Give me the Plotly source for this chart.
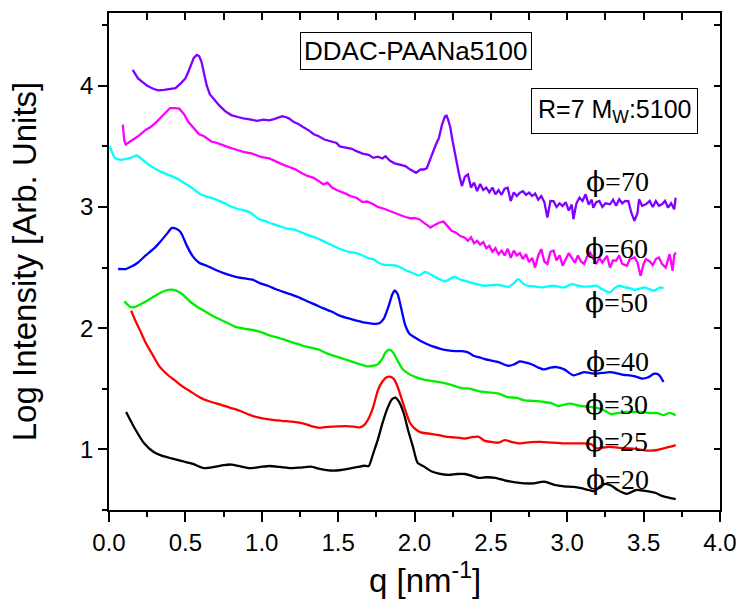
import plotly.graph_objects as go

# SAXS profiles of DDAC-PAANa5100 complexes (R=7) at several concentrations phi
q_phi20 = [0.112, 0.17, 0.23, 0.29, 0.34, 0.41, 0.49, 0.55, 0.62, 0.69, 0.75, 0.80, 0.86, 0.92, 0.99,
           1.05, 1.12, 1.19, 1.25, 1.32, 1.38, 1.45, 1.52, 1.58, 1.63, 1.67, 1.70, 1.73, 1.76, 1.79,
           1.82, 1.85, 1.875, 1.90, 1.93, 1.96, 1.99, 2.02, 2.06, 2.11, 2.16, 2.22, 2.28, 2.33, 2.38,
           2.42, 2.47, 2.53, 2.59, 2.65, 2.72, 2.78, 2.85, 2.91, 2.98, 3.04, 3.09, 3.14, 3.18, 3.21,
           3.25, 3.29, 3.33, 3.39, 3.45, 3.50, 3.54, 3.58, 3.62, 3.67, 3.71]
i_phi20 = [1.309, 1.17, 1.05, 0.98, 0.95, 0.925, 0.90, 0.88, 0.845, 0.855, 0.87, 0.875, 0.86, 0.845, 0.855,
           0.863, 0.855, 0.845, 0.85, 0.857, 0.84, 0.826, 0.83, 0.844, 0.855, 0.865, 0.862, 0.967, 1.08, 1.214,
           1.33, 1.41, 1.427, 1.39, 1.296, 1.15, 1.021, 0.89, 0.86, 0.82, 0.80, 0.79, 0.797, 0.797, 0.78,
           0.765, 0.77, 0.765, 0.745, 0.73, 0.72, 0.72, 0.734, 0.71, 0.695, 0.69, 0.68, 0.665, 0.655, 0.69,
           0.715, 0.70, 0.665, 0.633, 0.665, 0.66, 0.652, 0.64, 0.616, 0.60, 0.589]

q_phi25 = [0.145, 0.17, 0.20, 0.24, 0.29, 0.33, 0.38, 0.43, 0.48, 0.53, 0.60, 0.66, 0.73, 0.79, 0.86,
           0.93, 0.99, 1.06, 1.13, 1.21, 1.27, 1.33, 1.38, 1.43, 1.49, 1.55, 1.60, 1.64, 1.67, 1.70,
           1.73, 1.76, 1.79, 1.82, 1.84, 1.865, 1.89, 1.92, 1.94, 1.97, 2.00, 2.04, 2.09, 2.16, 2.22,
           2.28, 2.33, 2.37, 2.42, 2.46, 2.50, 2.55, 2.59, 2.64, 2.69, 2.76, 2.83, 2.90, 2.98, 3.05,
           3.11, 3.16, 3.19, 3.23, 3.28, 3.34, 3.41, 3.47, 3.54, 3.59, 3.63, 3.67, 3.71]
i_phi25 = [2.145, 2.07, 1.99, 1.88, 1.77, 1.685, 1.62, 1.57, 1.52, 1.48, 1.425, 1.395, 1.37, 1.345, 1.317,
           1.28, 1.26, 1.245, 1.236, 1.227, 1.215, 1.19, 1.178, 1.186, 1.19, 1.192, 1.188, 1.181, 1.20, 1.255,
           1.35, 1.487, 1.56, 1.597, 1.60, 1.58, 1.515, 1.40, 1.323, 1.22, 1.173, 1.14, 1.131, 1.117, 1.104,
           1.097, 1.09, 1.10, 1.104, 1.07, 1.062, 1.055, 1.076, 1.06, 1.049, 1.06, 1.062, 1.055, 1.049, 1.05,
           1.049, 1.04, 1.008, 1.015, 1.021, 1.012, 1.008, 1.00, 0.989, 0.995, 1.008, 1.02, 1.035]

q_phi30 = [0.10, 0.125, 0.145, 0.17, 0.21, 0.25, 0.30, 0.35, 0.40, 0.44, 0.48, 0.53, 0.58, 0.62, 0.68,
           0.73, 0.78, 0.83, 0.89, 0.94, 1.00, 1.05, 1.11, 1.16, 1.22, 1.27, 1.32, 1.38, 1.43, 1.49,
           1.55, 1.60, 1.65, 1.69, 1.73, 1.76, 1.79, 1.81, 1.835, 1.86, 1.89, 1.92, 1.96, 2.00, 2.06,
           2.12, 2.18, 2.25, 2.31, 2.37, 2.42, 2.48, 2.55, 2.61, 2.67, 2.72, 2.78, 2.85, 2.90, 2.94,
           2.98, 3.02, 3.08, 3.15, 3.20, 3.24, 3.29, 3.33, 3.38, 3.42, 3.48, 3.54, 3.59, 3.63, 3.67, 3.71]
i_phi30 = [2.221, 2.19, 2.172, 2.175, 2.20, 2.227, 2.265, 2.30, 2.318, 2.31, 2.28, 2.22, 2.175, 2.145, 2.10,
           2.07, 2.04, 2.01, 1.995, 1.985, 1.965, 1.94, 1.92, 1.90, 1.875, 1.855, 1.84, 1.82, 1.79, 1.765,
           1.74, 1.72, 1.70, 1.685, 1.69, 1.701, 1.75, 1.80, 1.822, 1.80, 1.73, 1.666, 1.625, 1.60, 1.575,
           1.564, 1.55, 1.528, 1.506, 1.50, 1.48, 1.47, 1.46, 1.432, 1.425, 1.405, 1.40, 1.391, 1.38, 1.356,
           1.37, 1.378, 1.36, 1.35, 1.34, 1.323, 1.29, 1.30, 1.309, 1.31, 1.309, 1.30, 1.30, 1.282, 1.301, 1.282]

q_phi40 = [0.06, 0.11, 0.15, 0.19, 0.24, 0.30, 0.34, 0.38, 0.41, 0.44, 0.47, 0.51, 0.55, 0.59, 0.64,
           0.70, 0.76, 0.83, 0.89, 0.94, 0.99, 1.04, 1.09, 1.14, 1.20, 1.25, 1.30, 1.35, 1.40, 1.46,
           1.51, 1.57, 1.62, 1.68, 1.73, 1.77, 1.80, 1.83, 1.855, 1.87, 1.89, 1.91, 1.94, 1.97, 2.00,
           2.04, 2.08, 2.12, 2.17, 2.22, 2.27, 2.31, 2.35, 2.39, 2.42, 2.46, 2.50, 2.55, 2.61, 2.65,
           2.69, 2.73, 2.77, 2.81, 2.85, 2.89, 2.93, 2.98, 3.04, 3.08, 3.11, 3.15, 3.19, 3.24, 3.28,
           3.32, 3.37, 3.41, 3.45, 3.49, 3.53, 3.57, 3.60, 3.63]
i_phi40 = [2.488, 2.488, 2.51, 2.542, 2.60, 2.665, 2.72, 2.78, 2.825, 2.82, 2.79, 2.679, 2.59, 2.54, 2.515,
           2.48, 2.45, 2.424, 2.41, 2.40, 2.37, 2.35, 2.323, 2.30, 2.274, 2.25, 2.22, 2.194, 2.165, 2.135,
           2.104, 2.08, 2.063, 2.045, 2.036, 2.04, 2.08, 2.18, 2.28, 2.309, 2.28, 2.18, 2.022, 1.95, 1.925,
           1.895, 1.87, 1.85, 1.83, 1.816, 1.81, 1.81, 1.80, 1.77, 1.761, 1.745, 1.734, 1.72, 1.69, 1.70,
           1.726, 1.715, 1.70, 1.675, 1.66, 1.675, 1.679, 1.66, 1.611, 1.625, 1.638, 1.63, 1.625, 1.632, 1.638,
           1.63, 1.615, 1.611, 1.60, 1.584, 1.595, 1.625, 1.615, 1.556]

q_phi50 = [0.005, 0.02, 0.04, 0.07, 0.10, 0.13, 0.16, 0.18, 0.20, 0.23, 0.27, 0.30, 0.35, 0.41, 0.46,
           0.49, 0.54, 0.60, 0.64, 0.68, 0.74, 0.79, 0.85, 0.88, 0.93, 0.98, 1.02, 1.07, 1.12, 1.17,
           1.21, 1.26, 1.30, 1.36, 1.40, 1.45, 1.49, 1.53, 1.57, 1.62, 1.66, 1.70, 1.73, 1.77, 1.80,
           1.84, 1.88, 1.91, 1.94, 1.98, 2.03, 2.07, 2.11, 2.14, 2.17, 2.20, 2.23, 2.26, 2.30, 2.33,
           2.37, 2.42, 2.46, 2.50, 2.55, 2.59, 2.62, 2.65, 2.68, 2.71, 2.74, 2.78, 2.83, 2.87, 2.91,
           2.95, 2.98, 3.03, 3.07, 3.11, 3.15, 3.19, 3.23, 3.28, 3.31, 3.34, 3.38, 3.41, 3.44, 3.47,
           3.51, 3.54, 3.57, 3.59, 3.61, 3.63]
i_phi50 = [3.501, 3.45, 3.405, 3.39, 3.392, 3.40, 3.415, 3.425, 3.41, 3.378, 3.34, 3.318, 3.285, 3.254, 3.225,
           3.20, 3.16, 3.104, 3.085, 3.071, 3.04, 3.008, 2.981, 2.973, 2.95, 2.90, 2.885, 2.86, 2.84, 2.82,
           2.816, 2.79, 2.77, 2.742, 2.72, 2.69, 2.665, 2.645, 2.63, 2.62, 2.60, 2.575, 2.57, 2.535, 2.523,
           2.52, 2.515, 2.50, 2.48, 2.46, 2.435, 2.465, 2.44, 2.419, 2.40, 2.386, 2.405, 2.424, 2.40, 2.391,
           2.375, 2.36, 2.35, 2.355, 2.358, 2.345, 2.342, 2.37, 2.405, 2.37, 2.35, 2.345, 2.336, 2.345, 2.35,
           2.34, 2.336, 2.364, 2.35, 2.342, 2.345, 2.35, 2.32, 2.295, 2.33, 2.35, 2.336, 2.33, 2.315, 2.325,
           2.336, 2.32, 2.309, 2.325, 2.336, 2.33]

q_phi60 = [0.09, 0.10, 0.11, 0.15, 0.19, 0.24, 0.27, 0.31, 0.35, 0.38, 0.40, 0.43, 0.46, 0.49, 0.52,
           0.55, 0.59, 0.62, 0.67, 0.70, 0.74, 0.79, 0.84, 0.88, 0.93, 0.96, 1.00, 1.05, 1.09, 1.135,
           1.18, 1.22, 1.26, 1.30, 1.34, 1.38, 1.405, 1.43, 1.46, 1.49, 1.51, 1.55, 1.58, 1.62, 1.66,
           1.69, 1.73, 1.76, 1.80, 1.835, 1.87, 1.90, 1.94, 1.98, 2.00, 2.03, 2.06, 2.09, 2.105, 2.13,
           2.16, 2.19, 2.22, 2.245, 2.27, 2.30, 2.33, 2.35, 2.37, 2.39, 2.41, 2.43, 2.45, 2.47, 2.49,
           2.51, 2.53, 2.55, 2.57, 2.59, 2.61, 2.63, 2.65, 2.67, 2.69, 2.71, 2.73, 2.75, 2.77, 2.79,
           2.81, 2.83, 2.85, 2.87, 2.89, 2.91, 2.93, 2.95, 2.97, 2.99, 3.01, 3.03, 3.05, 3.07, 3.09,
           3.11, 3.13, 3.15, 3.17, 3.19, 3.21, 3.23, 3.26, 3.28, 3.30, 3.32, 3.34, 3.36, 3.39, 3.41,
           3.44, 3.46, 3.48, 3.50, 3.515, 3.54, 3.56, 3.58, 3.60, 3.62, 3.645, 3.66, 3.67, 3.69, 3.70, 3.71]
i_phi60 = [3.68, 3.55, 3.515, 3.55, 3.583, 3.635, 3.657, 3.70, 3.748, 3.79, 3.816, 3.816, 3.811, 3.767, 3.70,
           3.657, 3.60, 3.585, 3.54, 3.53, 3.51, 3.49, 3.47, 3.455, 3.443, 3.43, 3.41, 3.40, 3.375, 3.351,
           3.33, 3.31, 3.28, 3.256, 3.24, 3.205, 3.186, 3.20, 3.16, 3.14, 3.131, 3.11, 3.09, 3.076, 3.04,
           3.045, 3.022, 3.00, 2.985, 2.967, 2.95, 2.935, 2.917, 2.905, 2.91, 2.899, 2.87, 2.84, 2.83, 2.85,
           2.87, 2.879, 2.84, 2.802, 2.79, 2.76, 2.747, 2.72, 2.75, 2.70, 2.72, 2.69, 2.71, 2.66, 2.68,
           2.63, 2.66, 2.61, 2.64, 2.60, 2.655, 2.58, 2.64, 2.60, 2.62, 2.57, 2.61, 2.545, 2.58, 2.50,
           2.60, 2.652, 2.55, 2.53, 2.63, 2.64, 2.56, 2.60, 2.515, 2.57, 2.62, 2.58, 2.54, 2.60, 2.55,
           2.53, 2.59, 2.624, 2.57, 2.53, 2.58, 2.54, 2.597, 2.50, 2.56, 2.556, 2.60, 2.53, 2.515, 2.57,
           2.583, 2.54, 2.433, 2.53, 2.57, 2.55, 2.52, 2.57, 2.583, 2.53, 2.50, 2.58, 2.611, 2.474, 2.60, 2.624]

q_phi70 = [0.155, 0.17, 0.19, 0.22, 0.25, 0.29, 0.32, 0.36, 0.40, 0.435, 0.47, 0.50, 0.52, 0.54, 0.555,
           0.575, 0.59, 0.605, 0.62, 0.64, 0.66, 0.69, 0.72, 0.76, 0.80, 0.85, 0.88, 0.93, 0.97, 1.01,
           1.05, 1.08, 1.11, 1.135, 1.16, 1.18, 1.21, 1.24, 1.27, 1.31, 1.34, 1.37, 1.41, 1.45, 1.49,
           1.51, 1.55, 1.59, 1.62, 1.66, 1.70, 1.73, 1.76, 1.79, 1.81, 1.84, 1.87, 1.90, 1.92, 1.94,
           1.97, 2.00, 2.01, 2.04, 2.06, 2.08, 2.10, 2.12, 2.14, 2.16, 2.18, 2.20, 2.21, 2.22, 2.234,
           2.25, 2.266, 2.29, 2.31, 2.33, 2.35, 2.37, 2.39, 2.41, 2.43, 2.45, 2.47, 2.49, 2.51, 2.53,
           2.55, 2.57, 2.59, 2.61, 2.63, 2.65, 2.67, 2.69, 2.71, 2.73, 2.75, 2.77, 2.79, 2.81, 2.83,
           2.85, 2.87, 2.89, 2.91, 2.93, 2.95, 2.97, 2.99, 3.01, 3.03, 3.04, 3.06, 3.08, 3.10, 3.12,
           3.14, 3.16, 3.17, 3.19, 3.21, 3.23, 3.25, 3.28, 3.30, 3.32, 3.34, 3.36, 3.38, 3.40, 3.42,
           3.44, 3.46, 3.47, 3.49, 3.515, 3.54, 3.56, 3.58, 3.60, 3.62, 3.64, 3.66, 3.68, 3.70, 3.71]
i_phi70 = [4.131, 4.10, 4.06, 4.03, 4.00, 3.975, 3.962, 3.965, 3.972, 3.98, 4.02, 4.06, 4.117, 4.19, 4.23,
           4.255, 4.245, 4.20, 4.10, 4.00, 3.93, 3.88, 3.84, 3.79, 3.758, 3.74, 3.73, 3.72, 3.71, 3.72,
           3.715, 3.725, 3.735, 3.748, 3.74, 3.729, 3.70, 3.684, 3.66, 3.63, 3.60, 3.585, 3.556, 3.54, 3.528,
           3.50, 3.49, 3.48, 3.46, 3.44, 3.43, 3.405, 3.415, 3.40, 3.419, 3.38, 3.36, 3.351, 3.34, 3.337,
           3.31, 3.29, 3.282, 3.31, 3.309, 3.318, 3.39, 3.45, 3.515, 3.57, 3.679, 3.748, 3.752, 3.72, 3.66,
           3.54, 3.43, 3.28, 3.172, 3.25, 3.268, 3.16, 3.20, 3.131, 3.19, 3.14, 3.159, 3.12, 3.16, 3.104,
           3.14, 3.10, 3.15, 3.159, 3.049, 3.12, 3.09, 3.118, 3.13, 3.10, 3.118, 3.09, 3.11, 3.06, 3.09,
           3.04, 2.912, 3.05, 3.049, 3.00, 3.03, 3.008, 3.04, 2.97, 3.02, 2.899, 3.03, 3.076, 3.05, 3.104,
           3.02, 3.06, 2.994, 3.04, 3.049, 3.00, 3.03, 3.022, 3.06, 3.01, 3.063, 3.03, 3.05, 3.049, 2.95,
           2.885, 2.95, 3.063, 3.01, 3.022, 3.05, 3.00, 3.049, 3.01, 3.022, 3.05, 2.994, 3.03, 2.981, 3.076]

phi_values = ["20", "25", "30", "40", "50", "60", "70"]
colors = ["#000000", "#ff0000", "#00ee00", "#0000ff", "#00ffff", "#ff00ff", "#8000ff"]
q_sets = [q_phi20, q_phi25, q_phi30, q_phi40, q_phi50, q_phi60, q_phi70]
i_sets = [i_phi20, i_phi25, i_phi30, i_phi40, i_phi50, i_phi60, i_phi70]
smooth_flags = [True, True, True, True, True, False, False]

# curve labels placed at the right-hand end of each profile
label_q = [3.33, 3.32, 3.32, 3.33, 3.32, 3.32, 3.33]
label_i = [0.75, 1.066, 1.368, 1.724, 2.213, 2.657, 3.21]

serif = "Times New Roman, Liberation Serif, serif"
sans = "Arial, Liberation Sans, sans-serif"

fig = go.Figure()
for phi, q, inten, color, smooth in zip(phi_values, q_sets, i_sets, colors, smooth_flags):
    line = dict(color=color, width=2.3)
    if smooth:
        line.update(shape="spline", smoothing=0.6)
    fig.add_trace(go.Scatter(x=q, y=inten, mode="lines", name="\u03c6=" + phi, line=line,
                             showlegend=False, hoverinfo="x+y+name"))

# empty trace so the mirrored top/right axes are rendered
fig.add_trace(go.Scatter(x=[], y=[], xaxis="x2", yaxis="y2", showlegend=False, hoverinfo="skip"))

for phi, lq, li in zip(phi_values, label_q, label_i):
    fig.add_annotation(x=lq, y=li,
                       text='<span style="font-family:DejaVu Serif">\u03d5</span>=' + phi,
                       showarrow=False, font=dict(family=serif, size=28, color="black"),
                       xanchor="center", yanchor="middle")

fig.add_annotation(x=2.01, y=4.284, text="DDAC-PAANa5100", showarrow=False,
                   font=dict(family=sans, size=26, color="black"),
                   bordercolor="black", borderwidth=1, borderpad=3, bgcolor="white")
fig.add_annotation(x=3.31, y=3.795, text="R=7 M<sub>W</sub>:5100", showarrow=False,
                   font=dict(family=sans, size=25, color="black"),
                   bordercolor="black", borderwidth=1, borderpad=6, bgcolor="white")

axis_font = dict(family=sans, size=24, color="black")
title_font = dict(family=sans, size=33, color="black")

# x-axis title as a paper-anchored label beneath the tick labels
fig.add_annotation(xref="paper", yref="paper", x=0.518, y=-0.137, text="q [nm<sup>-1</sup>]",
                   showarrow=False, font=title_font, xanchor="center", yanchor="middle")

fig.update_layout(
    width=749, height=602,
    margin=dict(l=109, r=21, t=13, b=92),
    paper_bgcolor="white", plot_bgcolor="white",
    xaxis=dict(range=[0, 4], dtick=0.5, tick0=0, tickformat=".1f",
               ticks="outside", ticklen=10, tickwidth=1.5, tickcolor="black",
               minor=dict(dtick=0.25, ticks="outside", ticklen=5, tickwidth=1.5, tickcolor="black"),
               showline=True, linecolor="black", linewidth=1.5, showgrid=False, zeroline=False,
               tickfont=axis_font),
    yaxis=dict(range=[0.5, 4.6], tickvals=[1, 2, 3, 4], ticktext=["1", "2", "3", "4"],
               ticks="outside", ticklen=9, tickwidth=1.5, tickcolor="black",
               minor=dict(tickvals=[0.5, 1.5, 2.5, 3.5, 4.5], ticks="outside", ticklen=5,
                          tickwidth=1.5, tickcolor="black"),
               showline=True, linecolor="black", linewidth=1.5, showgrid=False, zeroline=False,
               tickfont=axis_font,
               title=dict(text="Log Intensity [Arb. Units]", font=title_font, standoff=34)),
    xaxis2=dict(overlaying="x", side="top", range=[0, 4], dtick=0.25, tick0=0,
                ticks="inside", ticklen=7, tickwidth=1.5, tickcolor="black",
                showticklabels=False, showline=True, linecolor="black", linewidth=1.5,
                showgrid=False, zeroline=False),
    yaxis2=dict(overlaying="y", side="right", range=[0.5, 4.6], dtick=0.5, tick0=0.5,
                ticks="inside", ticklen=6, tickwidth=1.5, tickcolor="black",
                showticklabels=False, showline=True, linecolor="black", linewidth=1.5,
                showgrid=False, zeroline=False),
)

fig.write_html("out.html")
